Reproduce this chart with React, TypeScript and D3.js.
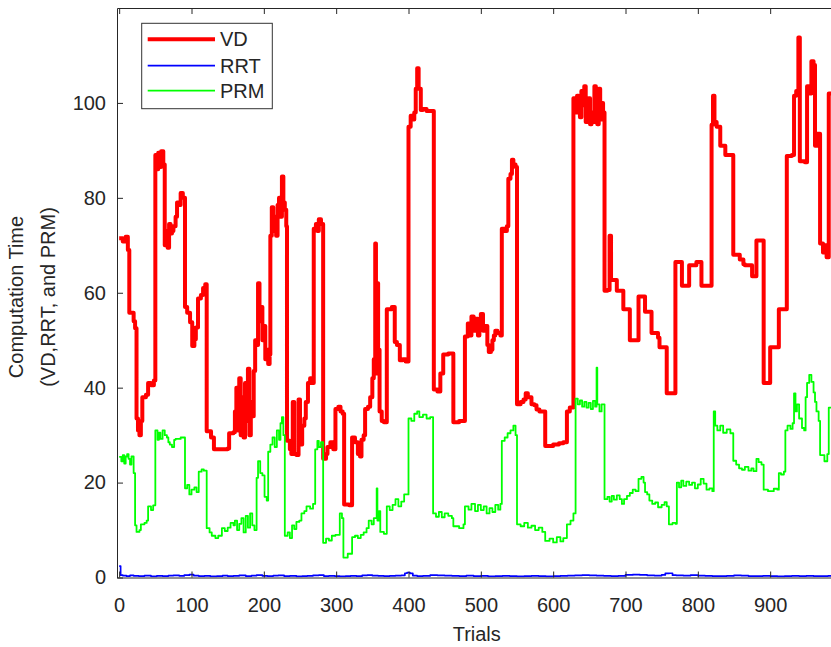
import React, { useEffect, useRef } from 'react';
import * as d3 from 'd3';

const W = 831;
const H = 647;
const FONT = '"Liberation Sans", Arial, Helvetica, sans-serif';
const INK = '#262626';

const xTicks = [0, 100, 200, 300, 400, 500, 600, 700, 800, 900];
const yTicks = [0, 20, 40, 60, 80, 100];

// [trial, value] steps
const vdSteps = [
  [0, 71.5], [5, 70.8], [9, 71.8], [12, 69], [14, 55.8], [20, 54], [22, 52.5], [24, 33.5], [26, 31], [28, 30],
  [30, 33], [32, 38], [37, 38.5], [40, 41], [44, 40.5], [48, 41.5], [50, 89], [52, 86], [54, 89.5], [56, 86.5],
  [58, 89.8], [61, 87], [63, 70], [65, 73], [67, 69.5], [69, 74.5], [71, 72.5], [73, 73], [75, 74], [78, 76],
  [80, 79], [83, 78.5], [85, 81], [88, 80], [91, 57], [94, 55.8], [98, 53.8], [101, 48.8], [104, 50.2], [106, 52.7],
  [109, 58.8], [113, 59.5], [116, 61], [119, 61.8], [121, 30.8], [127, 29.5], [131, 27], [150, 27.2], [152, 30.4], [158, 30.6],
  [160, 35], [162, 40], [164, 31], [166, 42], [168, 30], [170, 38], [172, 29.5], [174, 41], [176, 33], [178, 44],
  [180, 30], [182, 37], [184, 34], [186, 43.5], [188, 50], [190, 49], [192, 62], [194, 54], [196, 57], [198, 50],
  [200, 53], [202, 46], [204, 48], [206, 45], [208, 47], [209, 72], [211, 78], [213, 73], [215, 76], [217, 72],
  [219, 78.5], [221, 80], [223, 76], [225, 84.5], [227, 79], [229, 77.5], [231, 74], [232, 28.8], [236, 27], [238, 26],
  [240, 37], [242, 26], [245, 25.8], [248, 37.5], [250, 28], [253, 32], [256, 33.5], [258, 37], [261, 41], [264, 42],
  [267, 41], [269, 73.5], [272, 74.5], [274, 73], [276, 75.5], [279, 74.5], [282, 25], [286, 26], [288, 27.5], [292, 28.5],
  [296, 27], [299, 35.5], [303, 36], [306, 35], [309, 34.5], [311, 15.4], [318, 15.2], [322, 29.5], [326, 28.5], [330, 26],
  [333, 25.5], [335, 29], [338, 30], [340, 35.5], [344, 36], [347, 38], [350, 42], [352, 46], [354, 70.4], [355, 52],
  [356, 43], [357, 62], [358, 48], [360, 35], [363, 33], [366, 32.7], [370, 56.5], [377, 57], [381, 49.6], [384, 49],
  [388, 45.8], [392, 46], [396, 45.5], [400, 95], [403, 97.3], [405, 96.5], [408, 98], [410, 103], [412, 107.3], [414, 103],
  [417, 98.5], [420, 98.7], [425, 98.3], [435, 39.6], [440, 39.2], [444, 43], [448, 47], [455, 47.2], [462, 32.7], [470, 33],
  [478, 50.8], [482, 53.5], [485, 51], [487, 55], [490, 52], [493, 54.5], [496, 51], [498, 53], [500, 55.5], [503, 52],
  [506, 53], [509, 49], [511, 47.5], [514, 48], [516, 50], [518, 51], [520, 52], [523, 51.5],
  [527, 51], [529, 73.5], [533, 73], [536, 74], [538, 84], [541, 85], [543, 88], [545, 87], [548, 86.5], [550, 36.5],
  [555, 37], [559, 37.5], [562, 38.8], [565, 38], [570, 36.5], [574, 36.3], [577, 35.4], [581, 35], [589, 27.7], [600, 28],
  [608, 28.3], [614, 28.5], [619, 35], [623, 35.8], [628, 101], [631, 98], [633, 101.5], [635, 100], [637, 97], [639, 102.5],
  [641, 99.5], [643, 103.5], [645, 96], [647, 97.5], [649, 101], [651, 95.5], [653, 98], [655, 96], [657, 103.5], [659, 97],
  [661, 95.5], [663, 103], [665, 96.5], [667, 100], [669, 98], [671, 60.4], [675, 60.6], [678, 72], [680, 62.7], [688, 60.4],
  [697, 56.5], [706, 50], [718, 59.2], [727, 56], [736, 51.5], [745, 50.5], [747, 48.5], [757, 38.8], [769, 66.5], [778, 61.5],
  [788, 65.8], [798, 66.5], [805, 61.5], [819, 95.4], [821, 101.5], [823, 96], [826, 95], [831, 91], [838, 89], [849, 68],
  [858, 67], [863, 66], [865, 65.8], [875, 63.5], [881, 71], [891, 41], [900, 48.5], [912, 56.5], [923, 88.8], [930, 89],
  [933, 101.5], [936, 102.5], [939, 113.8], [941, 87.7], [948, 87.5], [951, 103.5], [955, 102], [957, 108.8], [960, 108], [962, 91],
  [965, 93.5], [969, 70.4], [973, 68.5], [976, 70], [978, 67.5], [981, 102], [995, 102],
];

const rrtSteps = [
  [0, 2.4], [2, 0.5], [5, 0.4], [10, 0.3], [15, 0.45], [20, 0.35], [27, 0.3], [35, 0.4], [44, 0.25], [52, 0.35],
  [60, 0.3], [68, 0.4], [75, 0.45], [83, 0.35], [90, 0.5], [97, 0.6], [103, 0.4], [110, 0.3], [118, 0.35], [126, 0.25],
  [135, 0.3], [143, 0.4], [150, 0.3], [158, 0.35], [166, 0.45], [175, 0.3], [183, 0.4], [190, 0.5], [198, 0.35], [205, 0.3],
  [213, 0.4], [220, 0.45], [228, 0.3], [236, 0.35], [245, 0.25], [253, 0.3], [260, 0.35], [268, 0.45], [276, 0.5], [283, 0.3],
  [290, 0.35], [298, 0.3], [305, 0.25], [313, 0.3], [320, 0.35], [328, 0.3], [336, 0.45], [343, 0.5], [350, 0.4], [358, 0.35],
  [366, 0.3], [374, 0.35], [382, 0.4], [390, 0.45], [395, 0.9], [398, 1.05], [402, 0.85], [406, 0.4], [412, 0.3], [420, 0.35],
  [430, 0.5], [440, 0.45], [450, 0.4], [460, 0.35], [470, 0.3], [480, 0.4], [490, 0.3], [500, 0.35], [510, 0.25], [520, 0.3],
  [530, 0.35], [540, 0.3], [550, 0.25], [560, 0.3], [570, 0.35], [580, 0.3], [590, 0.25], [600, 0.3], [610, 0.35], [620, 0.4],
  [630, 0.45], [640, 0.5], [650, 0.45], [660, 0.4], [670, 0.35], [680, 0.3], [690, 0.35], [700, 0.55], [710, 0.6], [720, 0.55],
  [730, 0.45], [740, 0.4], [750, 0.55], [755, 0.85], [760, 0.9], [765, 0.5], [770, 0.45], [780, 0.4], [790, 0.5], [800, 0.4],
  [810, 0.35], [820, 0.3], [830, 0.3], [840, 0.35], [850, 0.45], [860, 0.4], [870, 0.3], [880, 0.3], [890, 0.35], [900, 0.3],
  [910, 0.25], [920, 0.3], [930, 0.35], [940, 0.3], [950, 0.35], [960, 0.3], [970, 0.3], [980, 0.35], [995, 0.35],
];

const prmSteps = [
  [0, 25.4], [3, 24.5], [5, 25.8], [7, 24], [9, 25.5], [11, 26], [13, 25], [15, 23.8], [17, 25.5], [20, 22],
  [22, 11], [24, 9.6], [28, 10], [30, 11.2], [35, 11.5], [38, 12], [40, 15], [44, 14.2], [47, 15.2], [50, 31],
  [53, 29], [55, 30.5], [57, 29.2], [60, 31], [63, 30], [66, 29.5], [68, 28.5], [70, 28], [73, 27.5], [76, 29],
  [78, 29.2], [85, 29.5], [91, 18.8], [94, 19.5], [97, 17.5], [100, 18.5], [104, 19], [107, 18], [110, 22.3], [114, 22.8],
  [117, 22.5], [121, 10.4], [125, 9.5], [128, 8.8], [133, 8.3], [137, 8.8], [142, 10.4], [146, 9.8], [150, 10.5], [154, 11.5],
  [158, 11], [160, 12], [163, 10], [166, 11.3], [169, 12.5], [172, 9.5], [175, 13], [178, 10.5], [181, 13.5], [184, 11],
  [187, 10], [190, 21], [192, 24.5], [195, 22], [198, 21.5], [201, 17], [204, 16.2], [206, 26.5], [209, 28], [212, 29.5],
  [215, 27.5], [218, 31], [221, 29], [223, 32.5], [225, 33.8], [227, 30], [229, 8.8], [233, 9.5], [236, 8.3], [239, 11],
  [242, 10.2], [245, 11.7], [249, 12], [252, 13.5], [256, 14], [259, 15], [264, 14.5], [268, 15.5], [271, 27], [274, 28.8],
  [276, 27.5], [279, 28.5], [282, 7.3], [286, 8.2], [290, 7.8], [294, 8.8], [299, 9], [305, 13.5], [308, 12.5], [310, 4.2],
  [316, 5], [322, 8.5], [326, 8.8], [330, 8.3], [334, 9], [338, 9.5], [342, 10.4], [345, 12], [349, 11.2], [352, 12.5],
  [356, 18.8], [357, 12], [359, 14], [361, 9.6], [366, 9.2], [370, 15], [374, 14.2], [378, 15.3], [382, 16.5], [386, 15],
  [390, 16], [394, 17.5], [400, 33.5], [404, 33], [408, 34.5], [412, 35], [415, 33.8], [420, 34.3], [425, 33.5], [430, 33.8],
  [434, 13.5], [438, 12.8], [442, 13.8], [446, 12.7], [450, 13.5], [455, 13], [460, 12.5], [462, 10.8], [470, 10.4], [476, 11.2],
  [478, 15], [483, 14.3], [487, 15.5], [492, 14], [496, 15.3], [500, 14.2], [504, 15], [508, 13.5], [512, 14.6], [516, 13.8],
  [520, 15.3], [524, 14.3], [527, 15.5], [529, 28.8], [533, 29.5], [537, 30.4], [541, 31], [545, 32], [548, 30], [550, 11.2],
  [555, 10.8], [560, 11.5], [565, 10.5], [570, 10.9], [575, 10], [580, 10.5], [585, 9.6], [589, 7.7], [595, 8.2], [600, 7.4],
  [605, 8.5], [610, 7.6], [614, 8.3], [619, 11.2], [624, 12], [628, 13.5], [631, 37.7], [634, 36.5], [637, 37.3], [640, 36],
  [643, 37], [646, 35.8], [649, 36.8], [652, 35.5], [655, 37.2], [658, 36], [660, 44.2], [661, 36.5], [664, 35], [667, 36.5],
  [671, 16.5], [675, 17], [678, 16], [681, 17.2], [684, 16.4], [688, 17.3], [692, 16.5], [695, 15.5], [698, 16.5], [702, 17.2],
  [706, 17.8], [710, 18.5], [714, 18.2], [718, 20.8], [722, 21.2], [725, 20], [727, 18], [730, 17.5], [733, 16.2], [737, 15.5],
  [741, 15.8], [745, 14.8], [750, 15.3], [754, 15.9], [757, 15], [760, 11.2], [765, 11.5], [769, 11.3], [771, 20], [774, 19],
  [777, 20.4], [780, 19.3], [784, 20.2], [788, 19.5], [792, 20], [796, 18.8], [800, 19.6], [804, 20.8], [808, 19.8], [812, 18.5],
  [816, 18.8], [820, 18.2], [822, 35], [824, 32], [827, 31], [831, 32], [835, 30.5], [840, 31.2], [845, 30.4], [849, 24.6],
  [853, 23.8], [857, 23], [861, 22.7], [865, 23.3], [870, 22.5], [874, 23], [877, 22.4], [881, 25], [884, 24.3], [888, 23.8],
  [891, 18.5], [897, 18.2], [905, 18.7], [910, 18.5], [912, 22], [915, 21.7], [919, 22.3], [921, 31], [924, 32], [928, 31.3],
  [931, 32.5], [933, 38.8], [935, 35], [937, 36.5], [940, 33.5], [944, 31.5], [947, 31], [949, 38], [951, 41], [954, 42.7],
  [957, 41.2], [960, 39], [962, 37], [964, 35], [967, 33], [969, 25.8], [975, 24.5], [979, 26], [981, 35.8], [995, 35],
];

const seriesNames = ['VD', 'RRT', 'PRM'];
const seriesColors = ['#ff0000', '#0000ff', '#00ff00'];
const seriesWidths = [4, 1.7, 1.8];
const seriesSteps = [vdSteps, rrtSteps, prmSteps];

export default function App() {
  const svgRef = useRef<SVGSVGElement | null>(null);

  useEffect(() => {
    const svg = d3.select(svgRef.current);
    svg.selectAll('*').remove();

    const left = 117, right = 842.5, top = 8, bottom = 577.5;

    const x = d3.scaleLinear().domain([-3, 1000]).range([left, right]);
    const y = d3.scaleLinear().domain([0, 120]).range([bottom, top]);

    svg.append('rect').attr('width', W).attr('height', H).attr('fill', '#fff');

    svg.append('defs').append('clipPath').attr('id', 'plot-clip')
      .append('rect').attr('x', left).attr('y', top).attr('width', right - left).attr('height', bottom - top);

    const line = d3.line<number[]>()
      .x(d => x(d[0]))
      .y(d => y(d[1]))
      .curve(d3.curveStepAfter);

    const plot = svg.append('g').attr('clip-path', 'url(#plot-clip)');
    seriesSteps.forEach((steps, i) => {
      plot.append('path')
        .attr('d', line(steps))
        .attr('fill', 'none')
        .attr('stroke', seriesColors[i])
        .attr('stroke-width', seriesWidths[i])
        .attr('stroke-linejoin', 'round');
    });

    const styleAxis = (g: any) => {
      g.selectAll('path').attr('stroke', INK).attr('stroke-width', 1);
      g.selectAll('line').attr('stroke', INK).attr('stroke-width', 1);
      g.selectAll('text').attr('fill', INK).attr('font-size', 20).attr('font-family', FONT);
    };

    svg.append('g')
      .attr('transform', `translate(0, ${bottom})`)
      .call(d3.axisBottom(x).tickValues(xTicks).tickSize(-6).tickSizeOuter(0).tickPadding(20))
      .call(styleAxis);

    svg.append('g')
      .attr('transform', `translate(0, ${top})`)
      .call(d3.axisTop(x).tickValues(xTicks).tickSize(-6).tickSizeOuter(0).tickFormat(() => ''))
      .call(styleAxis);

    svg.append('g')
      .attr('transform', `translate(${left}, 0)`)
      .call(d3.axisLeft(y).tickValues(yTicks).tickSize(-6).tickSizeOuter(0).tickPadding(11))
      .call(styleAxis);

    svg.append('text')
      .attr('x', (left + right) / 2 - 3)
      .attr('y', 641)
      .attr('text-anchor', 'middle')
      .attr('font-family', FONT)
      .attr('font-size', 20)
      .attr('fill', INK)
      .text('Trials');

    const yl = svg.append('text')
      .attr('transform', 'translate(22.5, 297) rotate(-90)')
      .attr('text-anchor', 'middle')
      .attr('font-family', FONT)
      .attr('font-size', 20)
      .attr('fill', INK);
    yl.append('tspan').attr('x', 0).attr('y', 0).text('Computation Time');
    yl.append('tspan').attr('x', 0).attr('y', 32).text('(VD,RRT, and PRM)');

    const legend = svg.append('g');
    legend.append('rect')
      .attr('x', 141.7).attr('y', 23.3).attr('width', 130.6).attr('height', 85.4)
      .attr('fill', '#fff').attr('stroke', '#333').attr('stroke-width', 1);
    const rowY = [39.3, 65.7, 90.7];
    seriesNames.forEach((name, i) => {
      legend.append('line')
        .attr('x1', 147.7).attr('x2', 215).attr('y1', rowY[i]).attr('y2', rowY[i])
        .attr('stroke', seriesColors[i]).attr('stroke-width', seriesWidths[i]);
      legend.append('text')
        .attr('x', 220).attr('y', rowY[i] + 7)
        .attr('font-family', FONT).attr('font-size', 20).attr('fill', INK)
        .text(name);
    });
  }, []);

  return (
    <div style={{ position: 'absolute', left: 0, top: 0, width: W, height: H, overflow: 'hidden' }}>
      <svg ref={svgRef} width={W} height={H} style={{ display: 'block' }} />
    </div>
  );
}
